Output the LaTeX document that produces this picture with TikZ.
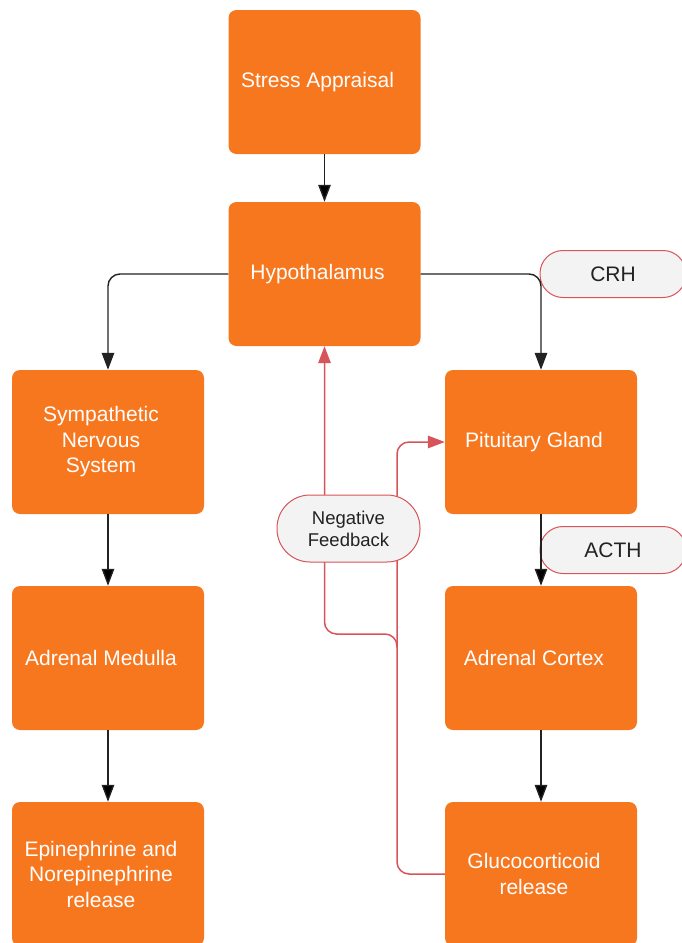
\documentclass[tikz,border=0pt]{standalone}
\usepackage{fontspec}
\setmainfont{Liberation Sans}
\usepackage{tikz}
\usetikzlibrary{arrows.meta}

\definecolor{boxorange}{RGB}{247,119,31}
\definecolor{fbred}{RGB}{214,84,90}
\definecolor{pillgray}{RGB}{243,243,243}
\definecolor{linegray}{RGB}{34,34,34}

\begin{document}
\begin{tikzpicture}[x=1pt,y=-1pt,>={Triangle[width=12.5pt,length=17pt]},
        stage/.style={fill=boxorange, rounded corners=8pt, minimum width=192pt, minimum height=144pt,
            inner sep=0pt, text width=192pt, align=flush center, text=white,
            execute at begin node={\leftskip=0pt plus 1fil\rightskip=14pt plus 1fil\parfillskip=0pt},
            font=\fontsize{21}{25.5}\selectfont},
        hormone/.style={fill=pillgray, draw=fbred, line width=1pt, rounded corners=23pt,
            minimum width=146pt, minimum height=47pt, text=linegray, font=\fontsize{21}{25}\selectfont},
        flow/.style={->, draw=linegray, line width=1.4pt, rounded corners=12pt},
        feedback/.style={->, draw=fbred, line width=1.5pt, rounded corners=12pt}]

    \useasboundingbox (0,0) rectangle (681,943);

    \node[stage] (stress) at (324.5,82) {Stress Appraisal};
    \node[stage] (hypo) at (324.5,274) {Hypothalamus};
    \node[stage] (symp) at (108,442) {Sympathetic\\Nervous\\System};
    \node[stage] (medulla) at (108,658) {Adrenal Medulla};
    \node[stage] (epi) at (108,874) {Epinephrine and\\Norepinephrine\\release};
    \node[stage] (pit) at (541,442) {Pituitary Gland};
    \node[stage] (cortex) at (541,658) {Adrenal Cortex};
    \node[stage] (gluco) at (541,874) {Glucocorticoid\\release};

    \node[hormone] (crh) at (613,274) {CRH};
    \node[hormone] (acth) at (613,550) {ACTH};

    \path[flow]
    (stress) edge (hypo)
    (symp) edge (medulla)
    (medulla) edge (epi)
    (pit) edge (cortex)
    (cortex) edge (gluco);
    \draw[flow] (hypo.west) -| (symp.north);
    \draw[flow] (hypo.east) -| (pit.north);

    % feedback loop from glucocorticoids
    \coordinate (fb) at (397,648);
    \coordinate (fbturn) at (324.5,634);
    \draw[feedback] (gluco.west) -| (fb) |- (pit.west);
    \draw[feedback] (fb) |- (fbturn) -- (hypo.south);

    \node[hormone, minimum width=143pt, minimum height=67pt, rounded corners=33pt, align=center,
        font=\fontsize{18.5}{22}\selectfont] (negfb) at (348.5,528.5) {Negative\\Feedback};

\end{tikzpicture}
\end{document}
